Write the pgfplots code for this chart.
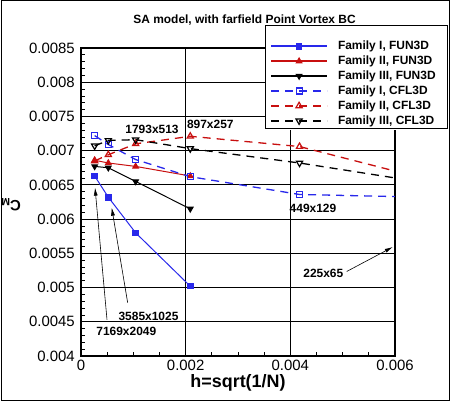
\documentclass[border=0pt]{standalone}
\usepackage{pgfplots}
\pgfplotsset{compat=1.18}
\usepackage{fontspec}
\setmainfont{Liberation Sans}
\usetikzlibrary{arrows.meta}

\definecolor{fblue}{RGB}{40,40,235}
\definecolor{fred}{RGB}{200,15,15}

\begin{document}
\begin{tikzpicture}
\useasboundingbox (0bp,0bp) rectangle (450bp,401bp);
\draw[line width=1bp] (1bp,1bp) rectangle (449bp,400bp);
\begin{axis}[
  at={(81bp,45bp)}, anchor=south west,
  scale only axis, width=314bp, height=308bp,
  xmin=0, xmax=0.006, ymin=0.004, ymax=0.0085,
  scaled ticks=false,
  xtick={0,0.002,0.004,0.006},
  xticklabels={0,0.002,0.004,0.006},
  ytick={0.004,0.0045,0.005,0.0055,0.006,0.0065,0.007,0.0075,0.008,0.0085},
  yticklabels={0.004,0.0045,0.005,0.0055,0.006,0.0065,0.007,0.0075,0.008,0.0085},
  minor x tick num=3, minor y tick num=4,
  tick align=inside, tick pos=left,
  major tick length=8bp, minor tick length=4bp,
  every tick/.style={black, line width=0.8bp},
  grid=major, major grid style={black, line width=0.8bp},
  axis line style={line width=1.2bp},
  ticklabel style={font=\fontsize{15}{15}\selectfont, inner sep=0pt},
  yticklabel style={xshift=-6bp},
  xticklabel style={yshift=-3.5bp},
  xlabel={\textbf{h=sqrt(1/N)}},
  xlabel style={at={(axis description cs:0.5,-0.0877)}, anchor=center, font=\fontsize{18}{18}\selectfont, inner sep=0pt},
  ylabel={\textbf{C\textsubscript{M}}},
  ylabel style={at={(axis description cs:-0.223,0.49)}, anchor=center, rotate=90, font=\fontsize{15}{15}\selectfont, inner sep=0pt},
  title={\textbf{SA model, with farfield Point Vortex BC}},
  title style={at={(axis description cs:0.5207,1.0909)}, anchor=center, yshift=-6pt, font=\fontsize{12}{12}\selectfont, inner sep=0pt},
  legend style={draw=none, fill=white, at={(0.586,1.0347)}, anchor=north west,
    inner xsep=5bp, inner ysep=3bp, row sep=3.4bp, column sep=10bp,
    font=\bfseries\fontsize{12}{12}\selectfont,
    nodes={inner sep=0pt, text height=9bp, text depth=2.5bp}},
  legend cell align=left,
  legend image code/.code={
    \draw[#1, line width=1.8bp, mark=none] (0bp,0bp) -- (56bp,0bp);
    \draw[#1] plot coordinates {(28bp,0bp)};
  },
]
% Family I, FUN3D
\addplot[fblue, line width=1bp, mark=square*, mark size=2.8bp, mark options={solid, fill=fblue}]
  coordinates {(0.000261,0.00663) (0.000522,0.00632) (0.001044,0.00580) (0.002088,0.00502)};
\addlegendentry{Family I, FUN3D}
% Family II, FUN3D
\addplot[fred, line width=1bp, mark=triangle*, mark size=3.2bp, mark options={solid, fill=fred}]
  coordinates {(0.000261,0.00686) (0.000522,0.00682) (0.001044,0.00677) (0.002088,0.00663)};
\addlegendentry{Family II, FUN3D}
% Family III, FUN3D
\addplot[black, line width=1bp, mark=triangle*, mark size=3.2bp, mark options={solid, fill=black, rotate=180}]
  coordinates {(0.000261,0.00677) (0.000522,0.00675) (0.001044,0.00655) (0.002088,0.00615)};
\addlegendentry{Family III, FUN3D}
% Family I, CFL3D
\addplot[fblue, line width=1.3bp, dash pattern=on 8bp off 6bp, mark=square, mark size=3bp, mark options={solid, line width=1.2bp}]
  coordinates {(0.000261,0.00722) (0.000522,0.00709) (0.001044,0.00687) (0.002088,0.00662) (0.004176,0.00636) (0.008352,0.00629)};
\addlegendentry{Family I, CFL3D}
% Family II, CFL3D
\addplot[fred, line width=1.3bp, dash pattern=on 8bp off 6bp, mark=triangle, mark size=3.6bp, mark options={solid, line width=1.2bp}]
  coordinates {(0.000261,0.00685) (0.000522,0.00694) (0.001044,0.00710) (0.002088,0.00721) (0.004176,0.00706) (0.008352,0.00624)};
\addlegendentry{Family II, CFL3D}
% Family III, CFL3D
\addplot[black, line width=1.3bp, dash pattern=on 8bp off 6bp, mark=triangle, mark size=3.6bp, mark options={solid, line width=1.2bp, rotate=180}]
  coordinates {(0.000261,0.00707) (0.000522,0.00715) (0.001044,0.00716) (0.002088,0.00703) (0.004176,0.00682) (0.008352,0.00632)};
\addlegendentry{Family III, CFL3D}

% grid size annotations
\begin{scope}[every node/.style={font=\bfseries\fontsize{12}{12}\selectfont, inner sep=0pt}]
\node at (axis cs:0.001357,0.007317) {1793x513};
\node at (axis cs:0.002471,0.00738) {897x257};
\node at (axis cs:0.004433,0.006162) {449x129};
\node at (axis cs:0.00463,0.0052) {225x65};
\node at (axis cs:0.00129,0.004577) {3585x1025};
\node at (axis cs:0.000866,0.004354) {7169x2049};
\end{scope}
\draw[line width=0.6bp, -{Latex[length=8bp,width=4bp]}] (axis cs:0.005077,0.005235) -- (axis cs:0.005957,0.005592);
\draw[line width=0.6bp, -{Latex[length=8bp,width=4bp]}] (axis cs:0.000892,0.004778) -- (axis cs:0.000587,0.006167);
\draw[line width=0.6bp, -{Latex[length=8bp,width=4bp]}] (axis cs:0.000497,0.00453) -- (axis cs:0.000268,0.00646);
\end{axis}
\draw[line width=1bp] (265bp,272bp) rectangle (447bp,375bp);
\end{tikzpicture}
\end{document}
